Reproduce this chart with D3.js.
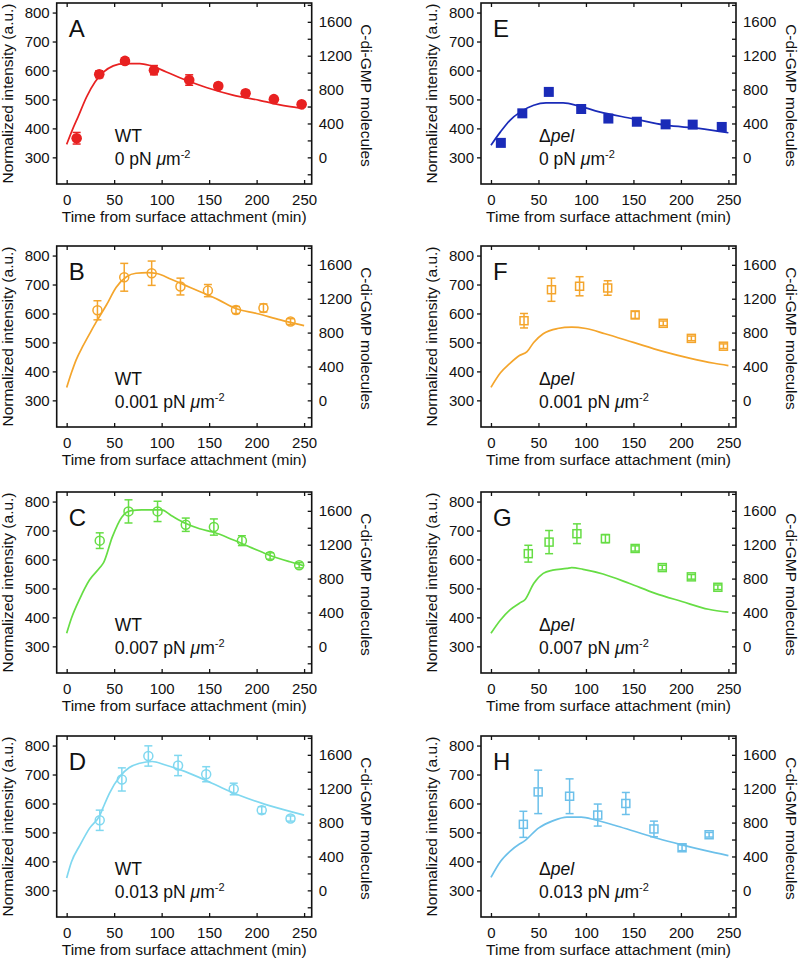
<!DOCTYPE html>
<html><head><meta charset="utf-8">
<script src="https://cdn.jsdelivr.net/npm/d3@7"></script>
<style>
body{margin:0;background:#fff}
svg{display:block}
text{font-family:"Liberation Sans",Arial,Helvetica,sans-serif;fill:#111}
</style>
</head><body>
<svg id="chart" width="800" height="962"></svg>
<script>
// ---------- tick labels ----------
const xTicks = [0, 50, 100, 150, 200, 250];
const yTicks = [300, 400, 500, 600, 700, 800];
const molTicks = [0, 400, 800, 1200, 1600];
const molAllTicks = [-200, 0, 200, 400, 600, 800, 1000, 1200, 1400, 1600, 1800];
const xTitle = "Time from surface attachment (min)";
const yTitle = "Normalized intensity (a.u.)";
const y2Title = "C-di-GMP molecules";

// ---------- panel categories ----------
const panelKeys = ["A", "B", "C", "D", "E", "F", "G", "H"];
const strains = ["WT", "WT", "WT", "WT", "Δpel", "Δpel", "Δpel", "Δpel"];
const pressures = ["0", "0.001", "0.007", "0.013", "0", "0.001", "0.007", "0.013"];

// ---------- data: measured points (time, intensity, error) ----------
const tA = [10.5, 34.3, 61.4, 91.9, 129, 159.6, 188.4, 218.2, 247.4];
const iA = [366, 587, 633, 601, 567, 546, 521, 501, 483];
const eA = [20, 12, 10, 16, 18, 10, 10, 8, 8];

const tB = [32.4, 60.6, 89.5, 119.8, 148.7, 178.3, 207.2, 235.7];
const iB = [611, 725, 739, 693, 679, 612, 619, 572];
const eB = [33, 48, 42, 29, 21, 12, 14, 10];

const tC = [34.8, 65.1, 95.7, 125.4, 155, 184.5, 214.2, 244.8];
const iC = [665, 766, 766, 720, 712, 665, 612, 580];
const eC = [27, 40, 35, 23, 28, 17, 11, 9];

const tD = [34.8, 58.1, 86, 117.3, 146.9, 175.9, 205.4, 235.7];
const iD = [542, 683, 764, 731, 701, 650, 577, 548];
const eD = [35, 40, 35, 35, 26, 20, 12, 9];

const tE = [10.4, 33, 60.9, 95, 123.6, 153.6, 183.9, 212.4, 243];
const iE = [350, 452, 526, 467, 434, 423, 414, 413, 405];
const eE = [6, 6, 6, 6, 6, 6, 6, 6, 6];

const tF = [34.8, 63.7, 93.3, 122.9, 151.8, 181.4, 211, 244.8];
const iF = [575, 682, 694, 688, 595, 566, 514, 487];
const eF = [25, 40, 33, 25, 12, 8, 8, 8];

const tG = [39.3, 61.2, 90.5, 120.5, 151.8, 180.4, 211, 238.9];
const iG = [620, 660, 689, 672, 638, 572, 540, 504];
const eG = [29, 40, 34, 14, 9, 8, 8, 8];

const tH = [34.1, 49.7, 82.8, 112.4, 142, 171.6, 201.2, 229.7];
const iH = [528, 640, 625, 560, 600, 512, 447, 492];
const eH = [45, 75, 60, 38, 38, 27, 10, 8];

// ---------- data: model curves ----------
const fitTA = [0, 6, 12, 21, 30, 39, 49, 61, 77, 88, 105, 126, 147, 175, 203, 232, 250];
const fitIA = [345, 395, 440, 509, 561, 595, 616, 624, 624, 617, 595, 566, 541, 515, 497, 477, 469];

const fitTB = [0, 5, 10, 17, 25, 31, 42, 52, 63, 73, 85, 95, 110, 125, 140, 160, 178, 200, 225, 250];
const fitIB = [344, 395, 440, 487, 535, 570, 630, 690, 727, 739, 741, 738, 718, 697, 676, 647, 617, 600, 578, 558];

const fitTC = [0, 5, 14, 24, 35, 39, 48, 58, 68, 79, 100, 110, 125, 140, 155, 175, 195, 215, 235, 250];
const fitIC = [345, 397, 466, 529, 572, 590, 677, 746, 769, 771, 771, 752, 725, 706, 694, 668, 640, 613, 592, 578];

const fitTD = [0, 5, 14, 24, 35, 38, 45, 56, 66, 77, 90, 104, 125, 153, 181, 209, 237, 250];
const fitID = [343, 398, 456, 514, 560, 583, 635, 693, 724, 739, 745, 733, 710, 670, 629, 597, 571, 560];

const fitTE = [0, 10, 20, 31, 45, 58, 76, 93, 114, 149, 184, 219, 250];
const fitIE = [342, 388, 428, 457, 480, 488, 488, 477, 457, 434, 411, 400, 385];

const fitTF = [0, 10, 20, 30, 38, 45, 55, 70, 85, 100, 120, 150, 180, 210, 235, 250];
const fitIF = [345, 395, 428, 455, 468, 500, 530, 548, 553, 548, 530, 500, 470, 445, 428, 420];

const fitTG = [0, 10, 20, 30, 36, 45, 55, 65, 80, 85, 97, 118, 146, 173, 201, 229, 250];
const fitIG = [345, 391, 426, 449, 462, 517, 552, 563, 569, 572, 566, 550, 517, 483, 455, 428, 418];

const fitTH = [0, 10, 20, 30, 35, 50, 65, 80, 95, 110, 130, 150, 175, 200, 225, 250];
const fitIH = [345, 400, 435, 460, 470, 515, 540, 553, 553, 543, 525, 505, 480, 458, 438, 420];

// ---------- styles ----------
const colors = ["#e82121", "#f4a52c", "#66dd44", "#80d8f0", "#1a2bb8", "#f4a52c", "#66dd44", "#6cc0ea"];
const markers = ["filledCircle", "openCircle", "openCircle", "openCircle", "filledSquare", "openSquare", "openSquare", "openSquare"];

const pts = [[tA, iA, eA], [tB, iB, eB], [tC, iC, eC], [tD, iD, eD], [tE, iE, eE], [tF, iF, eF], [tG, iG, eG], [tH, iH, eH]];
const fits = [[fitTA, fitIA], [fitTB, fitIB], [fitTC, fitIC], [fitTD, fitID], [fitTE, fitIE], [fitTF, fitIF], [fitTG, fitIG], [fitTH, fitIH]];

// ---------- layout ----------
const W = 255, H = 181;
const colX = [56.7, 481];
const rowY = [3, 246, 492, 736];
const xDom = [-10.5, 258];
const yDom = [208, 833];
const molZero = 300, molPerUnit = 1600 / 468;
const tickFont = 15, titleFont = 15.5;

const svg = d3.select("#chart");

panelKeys.forEach((key, k) => {
  const col = k < 4 ? 0 : 1, row = k % 4;
  const x0 = colX[col], y0 = rowY[row];
  const color = colors[k];
  const x = d3.scaleLinear().domain(xDom).range([x0, x0 + W]);
  const y = d3.scaleLinear().domain(yDom).range([y0 + H, y0]);
  const yR = d3.scaleLinear().domain(yDom.map(v => (v - molZero) * molPerUnit)).range([y0 + H, y0]);
  const g = svg.append("g");

  const style = sel => {
    sel.select(".domain").remove();
    sel.selectAll(".tick line").attr("stroke", "#111").attr("stroke-width", 1.3);
    sel.selectAll(".tick text").attr("font-size", tickFont).attr("font-family", '"Liberation Sans",Arial,sans-serif').attr("fill", "#111");
    sel.attr("font-family", null).attr("font-size", null);
  };

  g.append("g").attr("transform", `translate(${x0},0)`)
    .call(d3.axisLeft(y).tickValues(yTicks).tickSize(4).tickPadding(3)).call(style);
  g.append("g").attr("transform", `translate(${x0 + W},0)`)
    .call(d3.axisRight(yR).tickValues(molAllTicks).tickSize(-4).tickPadding(7)
      .tickFormat(d => molTicks.includes(d) ? d : "")).call(style);
  g.append("g").attr("transform", `translate(0,${y0 + H})`)
    .call(d3.axisBottom(x).tickValues(xTicks).tickSize(-4).tickPadding(10)).call(style);
  g.append("g").attr("transform", `translate(0,${y0})`)
    .call(d3.axisTop(x).tickValues(xTicks).tickSize(-4).tickFormat("")).call(style);

  g.append("rect").attr("x", x0).attr("y", y0).attr("width", W).attr("height", H)
    .attr("fill", "none").attr("stroke", "#111").attr("stroke-width", 1.6);

  // titles
  g.append("text").attr("transform", `translate(${x0 + W / 2},${y0 + H + 38})`)
    .attr("text-anchor", "middle").attr("font-size", titleFont).text(xTitle);
  g.append("text").attr("transform", `translate(${x0 - 49},${y0 + H / 2}) rotate(-90)`)
    .attr("text-anchor", "middle").attr("dy", "0.35em").attr("font-size", titleFont).text(yTitle);
  g.append("text").attr("transform", `translate(${x0 + W + 55},${y0 + H / 2 + 2}) rotate(90)`)
    .attr("text-anchor", "middle").attr("dy", "0.35em").attr("font-size", titleFont).text(y2Title);

  // panel letter
  g.append("text").attr("x", x0 + 12).attr("y", y0 + 34).attr("font-size", 24).text(key);

  // annotation
  const a1 = g.append("text").attr("x", x0 + 58).attr("y", y0 + 139).attr("font-size", 17.5);
  if (strains[k] === "WT") a1.text("WT");
  else { a1.append("tspan").text("Δ"); a1.append("tspan").attr("font-style", "italic").text("pel"); }
  const a2 = g.append("text").attr("x", x0 + 58).attr("y", y0 + 162).attr("font-size", 17.5);
  a2.append("tspan").text(pressures[k] + " pN ");
  a2.append("tspan").attr("font-style", "italic").text("μ");
  a2.append("tspan").text("m");
  a2.append("tspan").attr("font-size", 11).attr("dy", -7).text("-2");

  // fit curve
  const [ft, fv] = fits[k];
  const line = d3.line().x(d => x(d[0])).y(d => y(d[1])).curve(d3.curveMonotoneX);
  g.append("path").datum(ft.map((t, i) => [t, fv[i]]))
    .attr("d", line).attr("fill", "none").attr("stroke", color).attr("stroke-width", 1.7);

  // points
  const [tt, vv, ee] = pts[k];
  const data = tt.map((t, i) => ({ t, v: vv[i], e: ee[i] }));
  const m = markers[k];
  const cap = 4;
  const pg = g.append("g").attr("stroke", color).attr("stroke-width", 1.5);
  data.forEach(d => {
    const cx = x(d.t), cy = y(d.v), yt = y(d.v + d.e), yb = y(d.v - d.e);
    pg.append("line").attr("x1", cx).attr("x2", cx).attr("y1", yt).attr("y2", yb);
    pg.append("line").attr("x1", cx - cap).attr("x2", cx + cap).attr("y1", yt).attr("y2", yt);
    pg.append("line").attr("x1", cx - cap).attr("x2", cx + cap).attr("y1", yb).attr("y2", yb);
    if (m === "filledCircle") pg.append("circle").attr("cx", cx).attr("cy", cy).attr("r", 5.3).attr("fill", color).attr("stroke", "none");
    else if (m === "openCircle") pg.append("circle").attr("cx", cx).attr("cy", cy).attr("r", 4.5).attr("fill", "none");
    else if (m === "filledSquare") pg.append("rect").attr("x", cx - 5).attr("y", cy - 5).attr("width", 10).attr("height", 10).attr("fill", color).attr("stroke", "none");
    else pg.append("rect").attr("x", cx - 4).attr("y", cy - 4).attr("width", 8).attr("height", 8).attr("fill", "none");
  });
});
</script>
</body></html>
